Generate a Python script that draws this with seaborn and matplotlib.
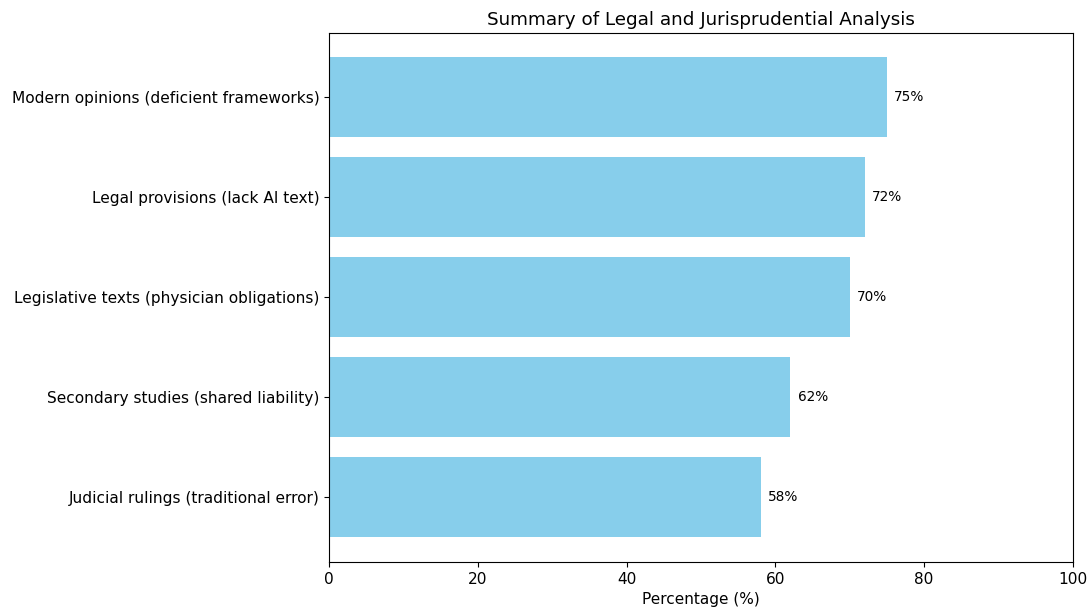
import matplotlib
matplotlib.use("Agg")
import matplotlib.pyplot as plt
import seaborn as sns
import pandas as pd

categories = [
    "Modern opinions (deficient frameworks)",
    "Legal provisions (lack AI text)",
    "Legislative texts (physician obligations)",
    "Secondary studies (shared liability)",
    "Judicial rulings (traditional error)",
]
values = [75, 72, 70, 62, 58]
value_labels = ["75%", "72%", "70%", "62%", "58%"]

df = pd.DataFrame({"category": categories, "value": values})

fig, ax = plt.subplots(figsize=(10.91, 6.10), dpi=100)
sns.barplot(data=df, x="value", y="category", orient="h", color="#87CEEB",
            saturation=1, width=0.8, ax=ax)

for i, (v, lab) in enumerate(zip(values, value_labels)):
    ax.text(v + 1, i, lab, va="center", ha="left", fontsize=9.8)

ax.set_xlim(0, 100)
ax.set_ylim(4.645, -0.645)
ax.set_xlabel("Percentage (%)", fontsize=11)
ax.set_ylabel("")
ax.set_title("Summary of Legal and Jurisprudential Analysis", fontsize=13.2)
ax.tick_params(axis="both", labelsize=11.1)

fig.subplots_adjust(left=0.3018, right=0.9833, top=0.946, bottom=0.0787)
fig.savefig("out.png", dpi=100)
